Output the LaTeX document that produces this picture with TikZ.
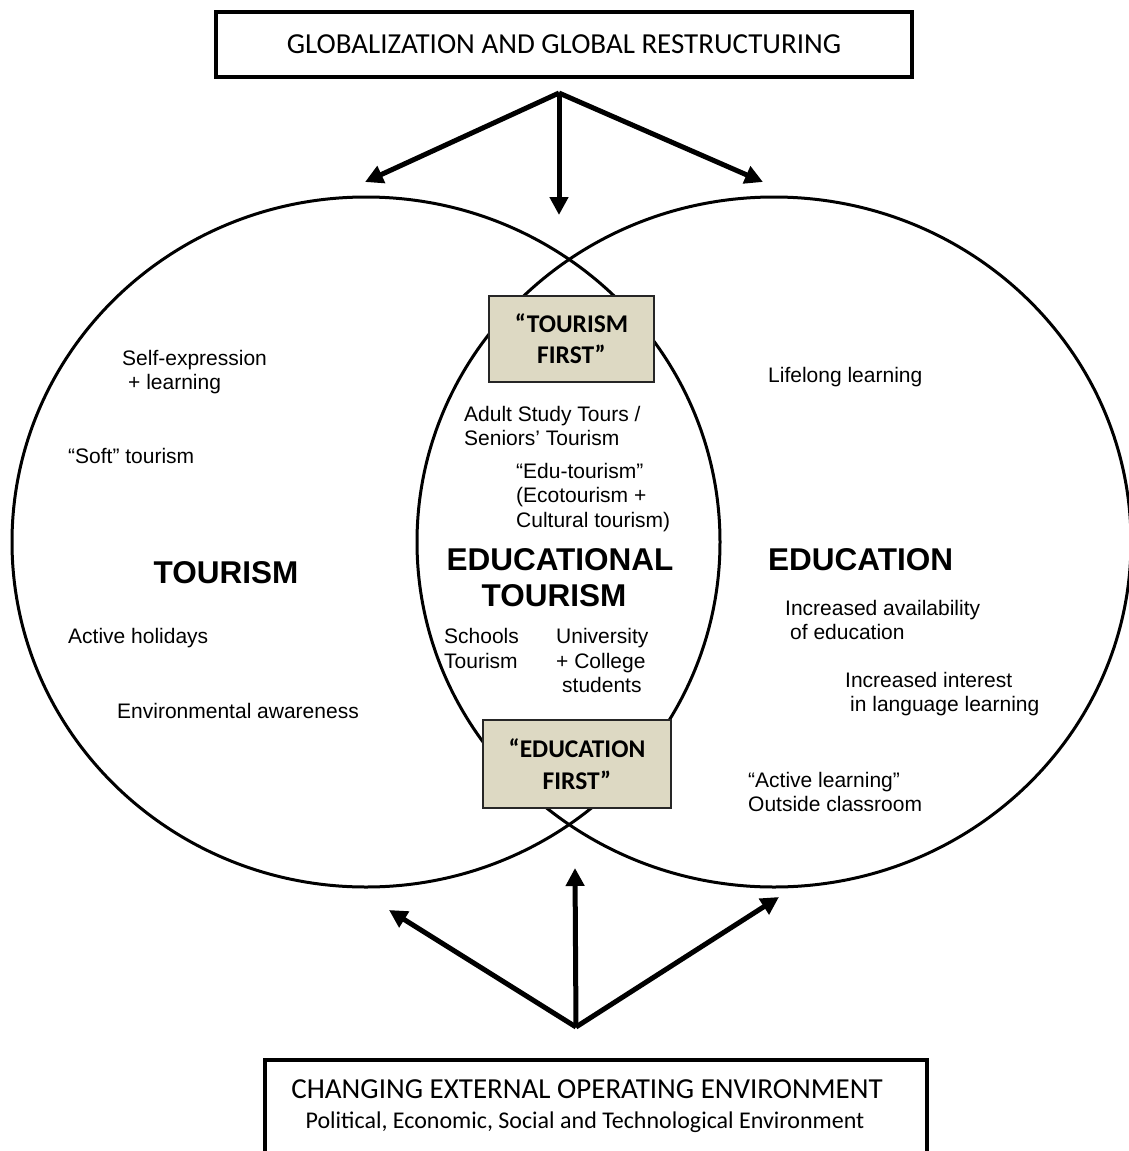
\documentclass[tikz,border=0pt]{standalone}
\usepackage{fontspec}
\setmainfont{Liberation Sans}
\newfontfamily\calfont{Carlito}
\usetikzlibrary{arrows.meta,shapes.geometric}
\definecolor{beige}{HTML}{DDD9C3}
\tikzset{
  ring/.style={draw, ellipse, line width=3pt, inner sep=0pt, minimum height=690pt},
  lbl/.style={font=\fontsize{21}{24.5}\selectfont, inner sep=0pt, anchor=base west},
  biglbl/.style={font=\fontsize{31.5}{36}\selectfont\bfseries, inner sep=0pt, anchor=base},
  firstbox/.style={draw=black!85, line width=2pt, fill=beige, align=center, inner sep=0pt,
     font=\calfont\bfseries\fontsize{25.5}{31}\selectfont},
  framebox/.style={draw, line width=4pt, inner sep=0pt},
  arr/.style={line width=5pt, -{Triangle[length=18pt,width=18pt]}}
}
\begin{document}
\begin{tikzpicture}[x=1pt,y=-1pt]
\useasboundingbox (0,0) rectangle (1129,1151);
\clip (0,0) rectangle (1129,1151);
\fill[white] (0,0) rectangle (1129,1151);

% circles
\node[ring, minimum width=708pt] (tourc) at (366,542) {};
\node[ring, minimum width=714pt] (educc) at (774,542) {};

% top and bottom frames
\node[framebox, minimum width=696pt, minimum height=65pt,
      font=\calfont\fontsize{29}{34}\selectfont] (glob) at (564,44)
      {GLOBALIZATION AND GLOBAL RESTRUCTURING};
\node[framebox, minimum width=662pt, minimum height=140pt, anchor=north] (env) at (596,1058) {};
\node[inner sep=0pt, anchor=base, font=\calfont\fontsize{29}{34}\selectfont] (envtitle)
      at (587,1098.5) {CHANGING EXTERNAL OPERATING ENVIRONMENT};
\node[inner sep=0pt, anchor=base, font=\calfont\fontsize{24}{28}\selectfont] (envsub)
      at (585,1128) {Political, Economic, Social and Technological Environment};

% beige boxes
\node[firstbox, minimum width=165pt, minimum height=86pt] (tfirst) at (571.5,339)
      {\textquotedblleft TOURISM\\FIRST\textquotedblright};
\node[firstbox, minimum width=188pt, minimum height=88pt, font=\calfont\bfseries\fontsize{25.5}{32}\selectfont] (efirst) at (577,764)
      {\textquotedblleft EDUCATION\\FIRST\textquotedblright};

% arrows top
\coordinate (tapex) at (559,93);
\coordinate (tL) at (365,182);
\coordinate (tM) at (559,215);
\coordinate (tR) at (763,182);
\draw[arr] (tapex) -- (tL);
\draw[arr] (tapex) -- (tM);
\draw[arr] (tapex) -- (tR);

% arrows bottom
\coordinate (bapex) at (576,1027);
\coordinate (bL) at (389,910);
\coordinate (bM) at (575,868);
\coordinate (bR) at (779,897);
\draw[arr] (bapex) -- (bL);
\draw[arr] (bapex) -- (bM);
\draw[arr] (bapex) -- (bR);

% left circle texts
\node[lbl] (selfA) at (122,365) {Self-expression};
\node[lbl] (selfB) at (128,389) {+ learning};
\node[lbl] (soft) at (68,463) {\textquotedblleft Soft\textquotedblright\ tourism};
\node[biglbl] (tour) at (226,583) {TOURISM};
\node[lbl] (active) at (68,643) {Active holidays};
\node[lbl] (envaw) at (117,718) {Environmental awareness};

% middle texts
\node[lbl] (adultA) at (464,421) {Adult Study Tours /};
\node[lbl] (adultB) at (464,445) {Seniors\textquoteright\ Tourism};
\node[lbl] (eduA) at (516,478) {\textquotedblleft Edu-tourism\textquotedblright};
\node[lbl] (eduB) at (516,502) {(Ecotourism +};
\node[lbl] (eduC) at (516,527) {Cultural tourism)};
\node[biglbl] (etA) at (560,570) {EDUCATIONAL};
\node[biglbl] (etB) at (554,606) {TOURISM};
\node[lbl] (schA) at (444,643) {Schools};
\node[lbl] (schB) at (444,668) {Tourism};
\node[lbl] (uniA) at (556,643) {University};
\node[lbl] (uniB) at (556,668) {+ College};
\node[lbl] (uniC) at (562,692) {students};

% right circle texts
\node[lbl] (life) at (768,382) {Lifelong learning};
\node[biglbl, anchor=base west] (educ) at (768,570) {EDUCATION};
\node[lbl] (availA) at (785,615) {Increased availability};
\node[lbl] (availB) at (790,639) {of education};
\node[lbl] (langA) at (845,687) {Increased interest};
\node[lbl] (langB) at (850,711) {in language learning};
\node[lbl] (actA) at (748,787) {\textquotedblleft Active learning\textquotedblright};
\node[lbl] (actB) at (748,811) {Outside classroom};
\end{tikzpicture}
\end{document}
